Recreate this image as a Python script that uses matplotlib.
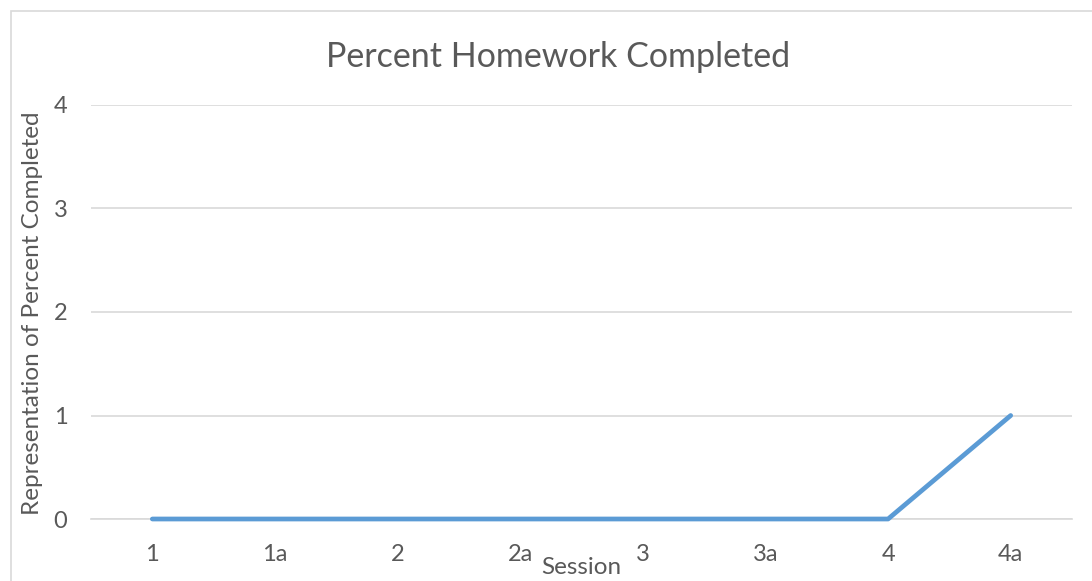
import matplotlib
matplotlib.use("Agg")
import matplotlib.pyplot as plt
from matplotlib.patches import Rectangle

sessions = ["1", "1a", "2", "2a", "3", "3a", "4", "4a"]
values = [0, 0, 0, 0, 0, 0, 0, 1]
yticks = [0, 1, 2, 3, 4]

plt.rcParams['font.family'] = ['Lato', 'DejaVu Sans']
txt = '#595959'
grid = '#d9d9d9'

fig = plt.figure(figsize=(10.92, 5.81), dpi=100)
W, H = 1092, 581
ax = fig.add_axes([91 / W, 1 - 519 / H, (1072 - 91) / W, (519 - 105) / H])

# chart border
fig.patches.append(Rectangle((11 / W, -0.1), 1.2, 1 - 11 / H + 0.1, transform=fig.transFigure,
                             fill=False, edgecolor=grid, linewidth=1.2))

x = list(range(len(sessions)))
ax.plot(x, values, color='#5b9bd5', linewidth=3.4, solid_capstyle='round',
        solid_joinstyle='round', zorder=3, clip_on=False)

ax.set_xlim(-0.5, len(sessions) - 0.5)
ax.set_ylim(0, 4)
ax.set_yticks(yticks)
ax.set_xticks(x)
ax.set_xticklabels(sessions)
ax.grid(axis='y', color=grid, linewidth=1.2)
ax.set_axisbelow(True)
for s in ['top', 'right', 'left']:
    ax.spines[s].set_visible(False)
ax.spines['bottom'].set_color(grid)
ax.spines['bottom'].set_linewidth(1.2)
ax.tick_params(axis='both', length=0, labelsize=17, colors=txt)
ax.tick_params(axis='x', pad=18)
ax.tick_params(axis='y', pad=17)

fig.text(558.5 / W, 1 - 57 / H, "Percent Homework Completed", ha='center', va='center',
         fontsize=24.5, color=txt)
fig.text(581.5 / W, 1 - 568 / H, "Session", ha='center', va='center', fontsize=17.5, color=txt)
fig.text(33 / W, 1 - 313 / H, "Representation of Percent Completed", ha='center', va='center',
         rotation=90, fontsize=17.5, color=txt)

fig.savefig("out.png", dpi=100)
